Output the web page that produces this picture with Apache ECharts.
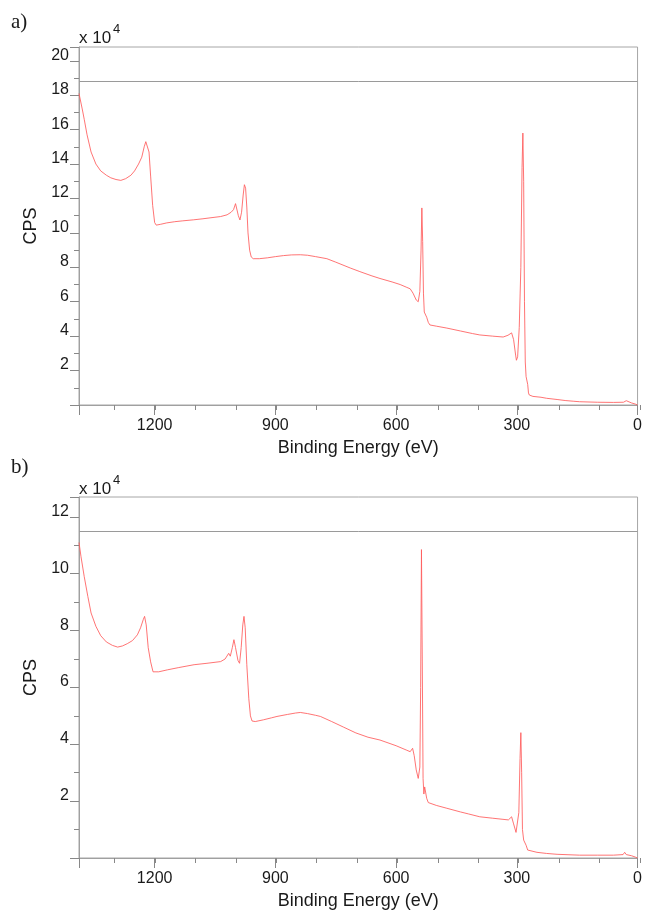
<!DOCTYPE html>
<html>
<head>
<meta charset="utf-8">
<script src="https://cdn.jsdelivr.net/npm/echarts@6/dist/echarts.min.js"></script>
<style>
  html, body { margin: 0; padding: 0; background: #fff; }
  #chart { width: 645px; height: 911px; }
</style>
</head>
<body>
<div id="chart"></div>
<script>
// binding energy (eV) and counts (x 10^4 CPS)
const energyA = [1388, 1380, 1375, 1368, 1358, 1346, 1334, 1320, 1309, 1296, 1284, 1272, 1259, 1250, 1240, 1232, 1226, 1222, 1218, 1214, 1210, 1205, 1200, 1196, 1185, 1170, 1150, 1130, 1103, 1080, 1060, 1036, 1020, 1010, 1004, 999, 996, 992, 988, 984, 980, 977, 974, 971, 968, 964, 960, 955, 940, 920, 900, 880, 860, 838, 820, 800, 772, 750, 714, 690, 660, 640, 610, 590, 575, 565, 558, 550, 545, 541, 538, 536, 534, 532, 530, 528, 526, 524, 520, 516, 500, 474, 440, 410, 392, 360, 334, 322, 313, 308, 303, 301, 298, 294, 290, 287, 285, 283, 281, 279, 277, 275, 273, 271, 269, 260, 240, 226, 200, 180, 160, 144, 100, 60, 35, 28, 24, 15, 5, 0]
const cpsA = [18.1, 17.2, 16.6, 15.7, 14.7, 14.0, 13.6, 13.35, 13.2, 13.1, 13.05, 13.15, 13.35, 13.6, 14.0, 14.4, 15.0, 15.3, 15.2, 14.7, 13.3, 11.6, 10.6, 10.45, 10.5, 10.58, 10.65, 10.7, 10.76, 10.82, 10.88, 10.95, 11.05, 11.2, 11.35, 11.7, 11.6, 11.0, 10.75, 11.2, 12.2, 12.8, 12.6, 11.5, 10.0, 9.0, 8.6, 8.5, 8.5, 8.55, 8.62, 8.68, 8.72, 8.73, 8.7, 8.62, 8.5, 8.3, 7.96, 7.75, 7.5, 7.35, 7.15, 7.0, 6.85, 6.75, 6.5, 6.1, 6.0, 6.6, 9.0, 11.45, 9.5, 6.5, 5.4, 5.35, 5.45, 5.1, 4.8, 4.65, 4.58, 4.47, 4.3, 4.15, 4.07, 4.0, 3.95, 4.05, 4.19, 3.8, 2.9, 2.6, 2.8, 4.5, 8.0, 13.8, 15.8, 13.0, 6.0, 2.5, 1.65, 1.75, 1.2, 0.7, 0.58, 0.5, 0.45, 0.39, 0.32, 0.26, 0.22, 0.19, 0.16, 0.15, 0.16, 0.25, 0.2, 0.12, 0.05, 0.0]

const energyB = [1388, 1383, 1375, 1366, 1358, 1346, 1334, 1320, 1305, 1292, 1280, 1268, 1255, 1243, 1235, 1228, 1225, 1221, 1216, 1210, 1204, 1200, 1190, 1168, 1140, 1102, 1070, 1036, 1025, 1016, 1012, 1007, 1003, 999, 993, 989, 985, 981, 978, 975, 971, 966, 962, 958, 950, 930, 910, 896, 870, 850, 838, 820, 800, 788, 760, 730, 700, 670, 640, 600, 575, 565, 559, 555, 550, 545, 541, 539, 537, 535, 533, 531, 529, 527, 524, 520, 517, 500, 474, 440, 420, 392, 360, 321, 313, 308, 302, 299, 295, 292, 290, 288, 286, 283, 280, 277, 273, 250, 226, 200, 144, 100, 60, 36, 32, 28, 15, 5, 0]
const cpsB = [11.1, 10.6, 9.9, 9.2, 8.62, 8.15, 7.82, 7.6, 7.48, 7.42, 7.46, 7.54, 7.65, 7.85, 8.1, 8.4, 8.5, 8.2, 7.4, 6.9, 6.55, 6.5, 6.55, 6.62, 6.7, 6.8, 6.85, 6.91, 7.0, 7.2, 7.1, 7.4, 7.68, 7.4, 6.95, 6.85, 7.4, 8.2, 8.5, 8.1, 6.8, 5.6, 5.0, 4.82, 4.8, 4.86, 4.93, 4.98, 5.05, 5.1, 5.12, 5.08, 5.02, 4.98, 4.8, 4.6, 4.4, 4.25, 4.15, 3.95, 3.8, 3.74, 3.86, 3.6, 3.1, 2.8, 3.2, 6.0, 10.85, 7.0, 2.8, 2.25, 2.5, 2.57, 2.1, 1.95, 1.93, 1.85, 1.75, 1.62, 1.55, 1.45, 1.4, 1.34, 1.45, 1.2, 0.9, 0.87, 1.6, 3.5, 4.41, 3.0, 1.0, 0.63, 0.58, 0.45, 0.28, 0.2, 0.16, 0.13, 0.1, 0.1, 0.1, 0.12, 0.2, 0.12, 0.08, 0.03, 0.0]

// gray cursor lines across the top of each panel
const cursorA = 18.82
const cursorB = 11.5

const xMax = 1388
const yMaxA = 20.8
const yMaxB = 12.7

const font = 'Liberation Sans, Arial, sans-serif'
const axisGray = '#a0a0a0'
const tickGray = '#888'
const lineRed = '#ff5c5c'

const zip = (xs, ys) => xs.map((x, i) => [x, ys[i]])

const panelA = { left: 79, right: 5, top: 47, height: 358 }
const panelB = { left: 79, right: 5, top: 497, height: 361 }

// grids 0/1 carry the data and labelled ticks, grids 2/3 sit on top of them for the minor ticks
const grids = [
  { ...panelA, show: true, borderColor: '#a6a6a6', borderWidth: 1 },
  { ...panelB, show: true, borderColor: '#a6a6a6', borderWidth: 1 },
  { ...panelA, show: false },
  { ...panelB, show: false }
]

function majorX(grid) {
  return {
    gridIndex: grid, type: 'value', position: 'bottom', inverse: true, min: 0, max: xMax, interval: 300,
    name: 'Binding Energy (eV)', nameLocation: 'middle', nameGap: 34,
    nameTextStyle: { fontFamily: font, fontSize: 18, color: '#1a1a1a' },
    axisLine: { onZero: false, lineStyle: { color: axisGray } },
    axisTick: { length: 10, lineStyle: { color: tickGray } },
    axisLabel: {
      fontFamily: font, fontSize: 16, color: '#1a1a1a', margin: 13,
      formatter: v => (v % 300 === 0 ? String(v) : '')
    },
    splitLine: { show: false }
  }
}

function minorX(grid) {
  return {
    gridIndex: grid, type: 'value', position: 'bottom', inverse: true, min: 0, max: xMax, interval: 100,
    axisLine: { show: false, onZero: false },
    axisTick: { length: 5, lineStyle: { color: tickGray } },
    axisLabel: { show: false },
    splitLine: { show: false }
  }
}

function majorY(grid, yMax) {
  return {
    gridIndex: grid, type: 'value', position: 'left', min: 0, max: yMax, interval: 2,
    name: 'CPS', nameLocation: 'middle', nameGap: 36, nameRotate: 90,
    nameTextStyle: { fontFamily: font, fontSize: 18, color: '#1a1a1a' },
    axisLine: { show: true, onZero: false, lineStyle: { color: axisGray } },
    axisTick: { show: true, length: 9, lineStyle: { color: tickGray } },
    axisLabel: {
      fontFamily: font, fontSize: 16, color: '#1a1a1a', margin: 10,
      verticalAlign: 'bottom', lineHeight: 11,
      formatter: v => (v > 0 && v % 2 === 0 ? String(v) : '')
    },
    splitLine: { show: false }
  }
}

function minorY(grid, yMax) {
  return {
    gridIndex: grid, type: 'value', position: 'left', min: 0, max: yMax, interval: 1,
    axisLine: { show: false, onZero: false },
    axisTick: { show: true, length: 5, lineStyle: { color: tickGray } },
    axisLabel: { show: false },
    splitLine: { show: false }
  }
}

function spectrum(grid, data, cursor) {
  return {
    type: 'line',
    xAxisIndex: grid,
    yAxisIndex: grid,
    data: data,
    showSymbol: false,
    animation: false,
    lineStyle: { color: lineRed, width: 1, opacity: 0.85 },
    markLine: {
      silent: true,
      symbol: 'none',
      label: { show: false },
      lineStyle: { color: '#9a9a9a', type: 'solid', width: 1 },
      data: [{ yAxis: cursor }]
    }
  }
}

function textAt(left, top, text, size, family) {
  return {
    type: 'text', left: left, top: top,
    style: { text: text, font: size + 'px ' + (family || font), fill: '#1a1a1a' }
  }
}

const chart = echarts.init(document.getElementById('chart'))

chart.setOption({
  backgroundColor: '#fff',
  animation: false,
  grid: grids,
  xAxis: [majorX(0), majorX(1), minorX(2), minorX(3)],
  yAxis: [majorY(0, yMaxA), majorY(1, yMaxB), minorY(2, yMaxA), minorY(3, yMaxB)],
  series: [
    spectrum(0, zip(energyA, cpsA), cursorA),
    spectrum(1, zip(energyB, cpsB), cursorB)
  ],
  graphic: [
    textAt(11, 12, 'a)', 21, 'Liberation Serif, serif'),
    textAt(79, 30, 'x 10', 17),
    textAt(113, 23, '4', 13),
    textAt(11, 457, 'b)', 21, 'Liberation Serif, serif'),
    textAt(79, 481, 'x 10', 17),
    textAt(113, 474, '4', 13)
  ]
})
</script>
</body>
</html>
